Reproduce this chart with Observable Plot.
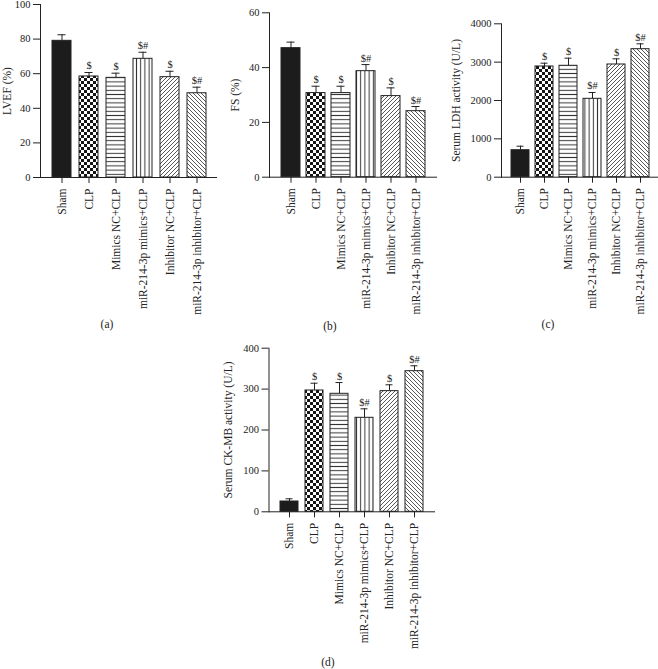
<!DOCTYPE html>
<html>
<head>
<meta charset="utf-8">
<script src="https://cdn.jsdelivr.net/npm/d3@7"></script>
<script src="https://cdn.jsdelivr.net/npm/@observablehq/plot@0.6"></script>
<style>
  html, body { margin: 0; padding: 0; background: #fff; }
  #wrap { position: relative; width: 658px; height: 669px; overflow: hidden;
          font-family: "Liberation Serif", "Times New Roman", serif; color: #222; }
  .panel { position: absolute; }
  .tag { position: absolute; font-size: 11.5px; line-height: 1; transform: translate(-50%, -50%); color: #222; }
</style>
</head>
<body>
<svg width="0" height="0" style="position:absolute;left:0;top:0">
  <defs>
    <pattern id="p-check" width="6" height="6" patternUnits="userSpaceOnUse">
      <rect width="6" height="6" fill="#fff"/>
      <rect width="3" height="3" fill="#151515"/>
      <rect x="3" y="3" width="3" height="3" fill="#151515"/>
    </pattern>
    <pattern id="p-hor" width="4" height="4.2" patternUnits="userSpaceOnUse">
      <rect width="4" height="4.2" fill="#fff"/>
      <line x1="0" y1="2.1" x2="4" y2="2.1" stroke="#333" stroke-width="1"/>
    </pattern>
    <pattern id="p-ver" width="4.2" height="4" patternUnits="userSpaceOnUse">
      <rect width="4.2" height="4" fill="#fff"/>
      <line x1="2.1" y1="0" x2="2.1" y2="4" stroke="#333" stroke-width="1"/>
    </pattern>
    <pattern id="p-fwd" width="4" height="4" patternUnits="userSpaceOnUse">
      <rect width="4" height="4" fill="#fff"/>
      <path d="M-1,1 L1,-1 M0,4 L4,0 M3,5 L5,3" stroke="#444" stroke-width="0.9"/>
    </pattern>
    <pattern id="p-back" width="4" height="4" patternUnits="userSpaceOnUse">
      <rect width="4" height="4" fill="#fff"/>
      <path d="M-1,3 L1,5 M0,0 L4,4 M3,-1 L5,1" stroke="#444" stroke-width="0.9"/>
    </pattern>
  </defs>
</svg>
<div id="wrap"></div>
<script>
// ---- data ----
const groups = ["Sham", "CLP", "Mimics NC+CLP", "miR-214-3p mimics+CLP", "Inhibitor NC+CLP", "miR-214-3p inhibitor+CLP"];
const sigLabels = ["", "$", "$", "$#", "$", "$#"];

const lvefMean  = [79, 58.4, 57.6, 68.6, 58, 48.7];
const lvefUpper = [82.5, 60.7, 60.3, 72.4, 61.4, 52.2];

const fsMean  = [47.1, 30.7, 30.7, 38.7, 29.6, 24.1];
const fsUpper = [49.3, 33.2, 33.2, 41.1, 32.6, 25.8];

const ldhMean  = [704, 2887, 2905, 2044, 2939, 3338];
const ldhUpper = [808, 2973, 3103, 2209, 3087, 3478];

const ckMean  = [25.2, 296.6, 288.5, 229.8, 295, 343.8];
const ckUpper = [31.8, 314.4, 316, 251.8, 310.5, 357];

const lvefTicks = [0, 20, 40, 60, 80, 100];
const fsTicks = [0, 20, 40, 60];
const ldhTicks = [0, 1000, 2000, 3000, 4000];
const ckTicks = [0, 100, 200, 300, 400];

const patterns = ["#1c1c1c", "url(#p-check)", "url(#p-hor)", "url(#p-ver)", "url(#p-fwd)", "url(#p-back)"];

// ---- builder ----
const wrap = document.getElementById("wrap");

function makePanel(cfg) {
  const rows = groups.map((g, i) => ({group: g, mean: cfg.mean[i], upper: cfg.upper[i], sig: sigLabels[i]}));
  const fig = Plot.plot({
    width: cfg.width,
    height: cfg.height,
    marginLeft: cfg.marginLeft,
    marginRight: cfg.marginRight,
    marginTop: cfg.marginTop,
    marginBottom: cfg.marginBottom,
    style: {fontFamily: '"Liberation Serif", "Times New Roman", serif', color: "#222", background: "transparent", overflow: "visible"},
    x: {domain: groups, padding: cfg.padding, insetLeft: cfg.insetLeft, insetRight: cfg.insetRight, axis: null},
    y: {domain: cfg.yDomain, axis: null},
    color: {domain: groups, range: patterns},
    marks: [
      Plot.ruleX(rows, {x: "group", y1: "mean", y2: "upper", stroke: "#222", strokeWidth: 1}),
      Plot.tickY(rows, {x: "group", y: "upper", stroke: "#222", strokeWidth: 1, inset: 5.5}),
      Plot.barY(rows, {x: "group", y: "mean", fill: "group", stroke: "#222", strokeWidth: 1}),
      Plot.text(rows, {x: "group", y: "upper", text: "sig", dy: -3, lineAnchor: "bottom", fontSize: 10.5, fill: "#222"}),
      Plot.axisY({ticks: cfg.yTicks, tickFormat: "d", tickSize: 7, tickPadding: 3, fontSize: 10.5, label: null, stroke: "#222"}),
      Plot.text([cfg.label], {frameAnchor: "left", rotate: -90, dx: cfg.labelDx, textAnchor: "middle",
                              lineAnchor: "middle", fontSize: 11.5, fill: "#222"}),
      Plot.axisX({tickRotate: -90, tickSize: 6, tickPadding: 5, fontSize: 11.5, label: null, stroke: "#222"}),
      Plot.frame({anchor: "left", stroke: "#222"}),
      Plot.ruleY([0], {stroke: "#222"})
    ]
  });
  const holder = document.createElement("div");
  holder.className = "panel";
  holder.style.left = cfg.left + "px";
  holder.style.top = cfg.top + "px";
  holder.appendChild(fig);
  wrap.appendChild(holder);

  const tag = document.createElement("div");
  tag.className = "tag";
  tag.textContent = cfg.tag;
  tag.style.left = cfg.tagX + "px";
  tag.style.top = cfg.tagY + "px";
  wrap.appendChild(tag);
}

makePanel({mean: lvefMean, upper: lvefUpper, yDomain: [0, 100], yTicks: lvefTicks, label: "LVEF (%)",
  left: 0, top: 0, width: 220, height: 320, marginLeft: 40, marginRight: 3, marginTop: 4, marginBottom: 143,
  padding: 0.312, insetLeft: 1.4, insetRight: 1.4, labelDx: -33, tag: "(a)", tagX: 107, tagY: 325});

makePanel({mean: fsMean, upper: fsUpper, yDomain: [0, 60], yTicks: fsTicks, label: "FS (%)",
  left: 220, top: 0, width: 220, height: 320, marginLeft: 49, marginRight: 3, marginTop: 12.3, marginBottom: 143.3,
  padding: 0.247, insetLeft: 3.6, insetRight: 3.6, labelDx: -34, tag: "(b)", tagX: 330, tagY: 327});

makePanel({mean: ldhMean, upper: ldhUpper, yDomain: [0, 4000], yTicks: ldhTicks, label: "Serum LDH activity (U/L)",
  left: 440, top: 0, width: 218, height: 320, marginLeft: 61, marginRight: 0, marginTop: 23.3, marginBottom: 143.3,
  padding: 0.256, insetLeft: 2.8, insetRight: 2.8, labelDx: -45, tag: "(c)", tagX: 548, tagY: 325});

makePanel({mean: ckMean, upper: ckUpper, yDomain: [0, 400], yTicks: ckTicks, label: "Serum CK-MB activity (U/L)",
  left: 220, top: 330, width: 220, height: 320, marginLeft: 48.5, marginRight: 5, marginTop: 17.7, marginBottom: 138.7,
  padding: 0.27, insetLeft: 1.5, insetRight: 2, labelDx: -40.5, tag: "(d)", tagX: 328, tagY: 663});
</script>
</body>
</html>
